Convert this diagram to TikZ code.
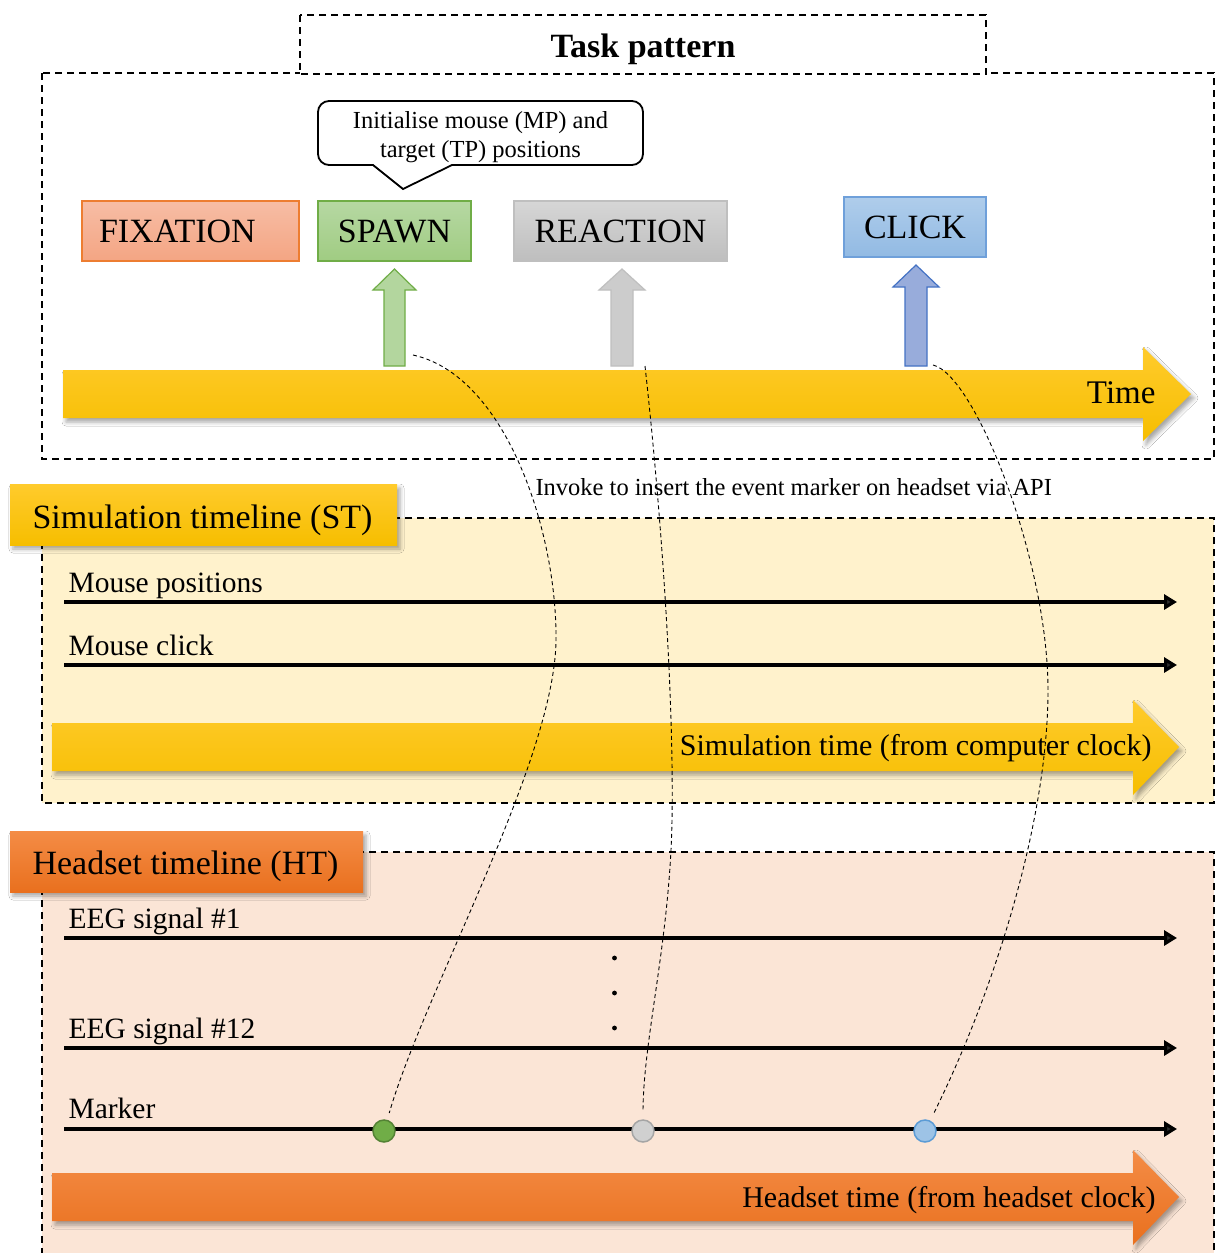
\documentclass[tikz,border=0pt]{standalone}
\usepackage{fontspec}
\setmainfont{Liberation Serif}
\usetikzlibrary{arrows.meta,shadows,shadows.blur}

\definecolor{goldT}{HTML}{FFCB2C}
\definecolor{goldB}{HTML}{F6BE00}
\definecolor{orgT}{HTML}{F48C46}
\definecolor{orgB}{HTML}{E9701E}
\definecolor{stfill}{HTML}{FFF2CC}
\definecolor{htfill}{HTML}{FBE5D6}
\definecolor{fixT}{HTML}{F7BDA5}
\definecolor{fixB}{HTML}{F4A583}
\definecolor{fixD}{HTML}{ED7D31}
\definecolor{spT}{HTML}{B6D8A3}
\definecolor{spB}{HTML}{A0CC82}
\definecolor{spD}{HTML}{70AD47}
\definecolor{reT}{HTML}{D6D6D6}
\definecolor{reB}{HTML}{BEBEBE}
\definecolor{reD}{HTML}{BFBFBF}
\definecolor{clT}{HTML}{AFCDEB}
\definecolor{clB}{HTML}{92BAE3}
\definecolor{clD}{HTML}{6FA0DA}
\definecolor{blArr}{HTML}{98ACDB}
\definecolor{blArrD}{HTML}{4472C4}
\definecolor{mkG}{HTML}{70AD47}
\definecolor{mkGD}{HTML}{548235}
\definecolor{mkS}{HTML}{D0D0D0}
\definecolor{mkSD}{HTML}{A5A5A5}
\definecolor{mkB}{HTML}{9DC3E6}
\definecolor{mkBD}{HTML}{5B9BD5}

\tikzset{
  region/.style={line width=2.3pt, dash pattern=on 7pt off 5pt},
  link/.style={line width=0.9pt, dash pattern=on 4pt off 3pt},
  rowarrow/.style={line width=3.2pt, -{Triangle[length=13pt,width=15pt]}},
  soft/.style={blur shadow={shadow xshift=3pt, shadow yshift=-4pt, shadow blur radius=4pt, shadow opacity=35}},
  evbox/.style={line width=1.3pt, minimum height=60pt, inner sep=0pt, font=\fontsize{34}{40}\selectfont},
  bigfont/.style={font=\fontsize{34}{40}\selectfont},
  rowfont/.style={font=\fontsize{29.5}{35}\selectfont},
  smallfont/.style={font=\fontsize{24.5}{30}\selectfont},
  marker/.style={circle, minimum size=22pt, inner sep=0pt, line width=1.5pt},
}

\begin{document}
\begin{tikzpicture}[x=1pt,y=-1pt]
\useasboundingbox (0,0) rectangle (1225,1253);
\fill[white] (0,0) rectangle (1225,1253);

% ---------------- Task pattern ----------------
\draw[region] (42,73) rectangle (1214,459);
\draw[region, fill=white] (300,15) rectangle (986,74);
\node[anchor=base, font=\fontsize{34}{40}\selectfont\bfseries] (title) at (643,57) {Task pattern};

% callout
\draw[line width=1.8pt, fill=white] (373,165) -- (403,189) -- (452,165)
  {[rounded corners=11pt] -- (643,165) -- (643,101) -- (318,101) -- (318,165)} -- cycle;
\node[smallfont, anchor=base] (init1) at (480.5,128) {Initialise mouse (MP) and};
\node[smallfont, anchor=base] (init2) at (480.5,157) {target (TP) positions};

% event boxes
\node[evbox, draw=fixD, top color=fixT, bottom color=fixB, minimum width=217pt,
      text width=183pt, inner xsep=17pt, align=left] (fix) at (190.5,231) {FIXATION};
\node[evbox, draw=spD, top color=spT, bottom color=spB, minimum width=153pt] (spawn) at (394.5,231) {SPAWN};
\node[evbox, draw=reD, top color=reT, bottom color=reB, minimum width=213pt] (react) at (620.5,231) {REACTION};
\node[evbox, draw=clD, top color=clT, bottom color=clB, minimum width=142pt] (click) at (915,227) {CLICK};

% up arrows
\draw[line width=1.2pt, draw=spD, fill=spT!85!spB]
  (384,366) -- (384,290) -- (373,290) -- (394.5,269) -- (416,290) -- (405,290) -- (405,366) -- cycle;
\draw[line width=1.2pt, draw=reD, fill=reT!60!reB]
  (611,366) -- (611,290) -- (599,290) -- (622,269) -- (645,290) -- (633,290) -- (633,366) -- cycle;
\draw[line width=1.2pt, draw=blArrD, fill=blArr]
  (905,366) -- (905,287) -- (893,287) -- (916,265) -- (939,287) -- (927,287) -- (927,366) -- cycle;
\coordinate (spawnfoot) at (413,355);
\coordinate (reactfoot) at (645,366);
\coordinate (clickfoot) at (933,365);

% time arrow
\path[soft, top color=goldT, bottom color=goldB]
  (63,370) -- (1143,370) -- (1143,347) -- (1191,394) -- (1143,441) -- (1143,418) -- (63,418) -- cycle;
\node[anchor=base east, font=\fontsize{33}{40}\selectfont] (time) at (1159,403) {Time};

% ---------------- Simulation timeline ----------------
\draw[region, fill=stfill] (42,518) rectangle (1214,803);
\node[soft, top color=goldT, bottom color=goldB, minimum width=387pt, minimum height=61pt,
      inner sep=0pt] (stlab) at (203.5,514.5) {};
\node[bigfont, anchor=base west] (sttext) at (29,528) {Simulation timeline (ST)};

\node[smallfont, anchor=base west] (invoke) at (532,495) {Invoke to insert the event marker on headset via API};

\node[rowfont, anchor=base west] (mpos) at (65,592) {Mouse positions};
\coordinate (mp0) at (64,602); \coordinate (mp1) at (1177,602);
\draw[rowarrow] (mp0) -- (mp1);
\node[rowfont, anchor=base west] (mclk) at (65,655) {Mouse click};
\coordinate (mc0) at (64,665); \coordinate (mc1) at (1177,665);
\draw[rowarrow] (mc0) -- (mc1);

\path[soft, top color=goldT, bottom color=goldB]
  (52,723) -- (1133,723) -- (1133,700) -- (1179,747) -- (1133,795) -- (1133,771) -- (52,771) -- cycle;
\node[anchor=base east, font=\fontsize{30}{36}\selectfont] (simtime) at (1155,755) {Simulation time (from computer clock)};

% ---------------- Headset timeline ----------------
\draw[region, fill=htfill] (42,852) rectangle (1214,1275);
\node[soft, top color=orgT, bottom color=orgB, minimum width=353pt, minimum height=61pt,
      inner sep=0pt] (htlab) at (186.5,861.5) {};
\node[bigfont, anchor=base west] (httext) at (29,874) {Headset timeline (HT)};

\node[rowfont, anchor=base west] (eeg1) at (65,928) {EEG signal \#1};
\coordinate (e10) at (64,938); \coordinate (e11) at (1177,938);
\draw[rowarrow] (e10) -- (e11);
\node[rowfont, anchor=base west] (eeg12) at (65,1038) {EEG signal \#12};
\coordinate (e20) at (64,1048); \coordinate (e21) at (1177,1048);
\draw[rowarrow] (e20) -- (e21);
\foreach \yy in {958,993,1028} \fill (614.5,\yy) circle (2.4pt);

\node[rowfont, anchor=base west] (mrk) at (65,1118) {Marker};
\coordinate (m0) at (64,1129); \coordinate (m1) at (1177,1129);
\draw[rowarrow] (m0) -- (m1);
\node[marker, draw=mkGD, fill=mkG] (mk1) at (384,1131) {};
\node[marker, draw=mkSD, fill=mkS] (mk2) at (643,1131) {};
\node[marker, draw=mkBD, fill=mkB] (mk3) at (925,1131) {};

\path[soft, top color=orgT, bottom color=orgB]
  (52,1173) -- (1133,1173) -- (1133,1150) -- (1179,1197) -- (1133,1245) -- (1133,1221) -- (52,1221) -- cycle;
\node[anchor=base east, font=\fontsize{30}{36}\selectfont] (hstime) at (1159,1207) {Headset time (from headset clock)};

% ---------------- event-marker links ----------------
\draw[link, shorten >=7pt] (spawnfoot) .. controls (505,375) and (557,530) .. (556,640)
  .. controls (555,760) and (425,990) .. (mk1);
\draw[link, shorten >=7pt] (reactfoot) .. controls (662,520) and (674,700) .. (672,820)
  .. controls (670,940) and (643,1040) .. (mk2);
\draw[link, shorten >=7pt] (clickfoot) .. controls (975,375) and (1048,560) .. (1048,690)
  .. controls (1048,820) and (995,990) .. (mk3);
\end{tikzpicture}
\end{document}
